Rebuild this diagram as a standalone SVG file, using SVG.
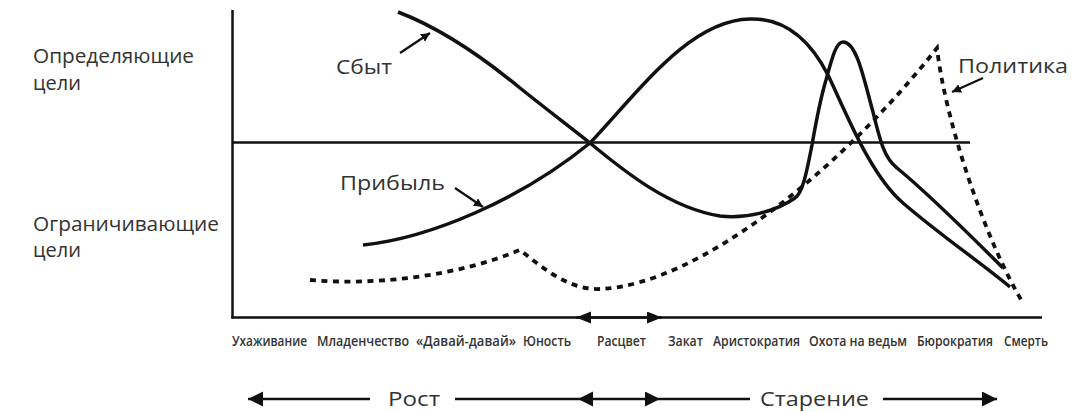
<svg xmlns="http://www.w3.org/2000/svg" width="1073" height="412" viewBox="0 0 1073 412">
<style>
.ax{stroke:#111;stroke-width:2.5;fill:none}
.cv{stroke:#111;stroke-width:3.5;fill:none;stroke-linejoin:round}
.dt{stroke:#111;stroke-width:3.8;fill:none;stroke-dasharray:6 5.5}
.pt{stroke:#111;stroke-width:2.2;fill:none}
.lbl{font-family:"Open Sans","DejaVu Sans",sans-serif;font-size:20px;fill:#333}
.st{font-family:"Open Sans","DejaVu Sans",sans-serif;font-size:14px;font-weight:600;fill:#333}
</style>
<defs>
<marker id="ah" markerUnits="userSpaceOnUse" markerWidth="16" markerHeight="16" refX="15" refY="7.5" orient="auto-start-reverse"><path d="M0,0 L15,7.5 L0,15 z" fill="#111"/></marker>
<marker id="ax" markerUnits="userSpaceOnUse" markerWidth="16" markerHeight="14" refX="15" refY="6" orient="auto-start-reverse"><path d="M0,0 L15,6 L0,12 z" fill="#111"/></marker>
<marker id="sm" markerUnits="userSpaceOnUse" markerWidth="10" markerHeight="10" refX="9" refY="4.5" orient="auto"><path d="M0,0 L9,4.5 L0,9 z" fill="#111"/></marker>
</defs>
<g id="axes">
<line class="ax" x1="232.5" y1="10" x2="232.5" y2="318.5"/>
<line class="ax" x1="231.3" y1="317.5" x2="1042" y2="317.5"/>
<line class="ax" x1="232" y1="142.5" x2="970" y2="142.5"/>
</g>
<g id="connectors">
<line class="ax" x1="576" y1="317.5" x2="662" y2="317.5" marker-start="url(#ax)" marker-end="url(#ax)"/>
<line class="ax" x1="248" y1="399" x2="370" y2="399" marker-start="url(#ah)"/>
<line class="ax" x1="455" y1="399" x2="578" y2="399"/>
<line class="ax" x1="578" y1="399" x2="660" y2="399" marker-start="url(#ah)" marker-end="url(#ah)"/>
<line class="ax" x1="660" y1="399" x2="750" y2="399"/>
<line class="ax" x1="883" y1="399" x2="997" y2="399" marker-end="url(#ah)"/>
<line class="pt" x1="400" y1="53" x2="430" y2="33" marker-end="url(#sm)"/>
<line class="pt" x1="455" y1="188" x2="483" y2="207" marker-end="url(#sm)"/>
<line class="pt" x1="983" y1="78" x2="952" y2="92" marker-end="url(#sm)"/>
</g>
<g id="sales">
<path class="cv" d="M398,12 C440,28 480,55 520,88 C550,112 570,127 590,143 C625,172 670,208 720,216 C745,219 775,212 795,198 C803,193 807,170 812,145 C816,122 820,100 826,80 C832,58 836,42 843,42 C857,42 864,80 873,112 C880,140 884,158 897,168 C930,195 975,240 1003,268"/>
</g>
<g id="profit">
<path class="cv" d="M363,245 C430,238 520,200 590,143 C640,90 690,20 750,19 C785,18 810,40 828,75 C845,110 870,175 903,203 C940,235 980,262 1010,287"/>
</g>
<g id="policy">
<path class="dt" d="M310,280 C380,286 460,275 520,250 C545,270 570,290 600,289 C700,285 845,165 937,48 C945,120 985,240 1023,303"/>
</g>
<g id="labels">
<text class="lbl" x="33" y="63" textLength="161" lengthAdjust="spacingAndGlyphs">Определяющие</text>
<text class="lbl" x="33" y="90">цели</text>
<text class="lbl" x="33" y="231" textLength="186" lengthAdjust="spacingAndGlyphs">Ограничивающие</text>
<text class="lbl" x="33" y="257">цели</text>
<text class="lbl" x="336" y="74" textLength="56" lengthAdjust="spacingAndGlyphs">Сбыт</text>
<text class="lbl" x="340" y="190" textLength="105" lengthAdjust="spacingAndGlyphs">Прибыль</text>
<text class="lbl" x="958" y="73" textLength="110" lengthAdjust="spacingAndGlyphs">Политика</text>
<text class="lbl" x="388" y="406" textLength="52" lengthAdjust="spacingAndGlyphs">Рост</text>
<text class="lbl" x="760" y="406" textLength="109" lengthAdjust="spacingAndGlyphs">Старение</text>
</g>
<g id="stages">
<text class="st" x="232" y="346" textLength="75" lengthAdjust="spacingAndGlyphs">Ухаживание</text>
<text class="st" x="317" y="346" textLength="92" lengthAdjust="spacingAndGlyphs">Младенчество</text>
<text class="st" x="416" y="346" textLength="100" lengthAdjust="spacingAndGlyphs">«Давай-давай»</text>
<text class="st" x="523" y="346" textLength="48" lengthAdjust="spacingAndGlyphs">Юность</text>
<text class="st" x="597" y="346" textLength="49" lengthAdjust="spacingAndGlyphs">Расцвет</text>
<text class="st" x="668" y="346" textLength="35" lengthAdjust="spacingAndGlyphs">Закат</text>
<text class="st" x="713" y="346" textLength="87" lengthAdjust="spacingAndGlyphs">Аристократия</text>
<text class="st" x="809" y="346" textLength="98" lengthAdjust="spacingAndGlyphs">Охота на ведьм</text>
<text class="st" x="917" y="346" textLength="76" lengthAdjust="spacingAndGlyphs">Бюрократия</text>
<text class="st" x="1004" y="346" textLength="44" lengthAdjust="spacingAndGlyphs">Смерть</text>
</g>
</svg>
